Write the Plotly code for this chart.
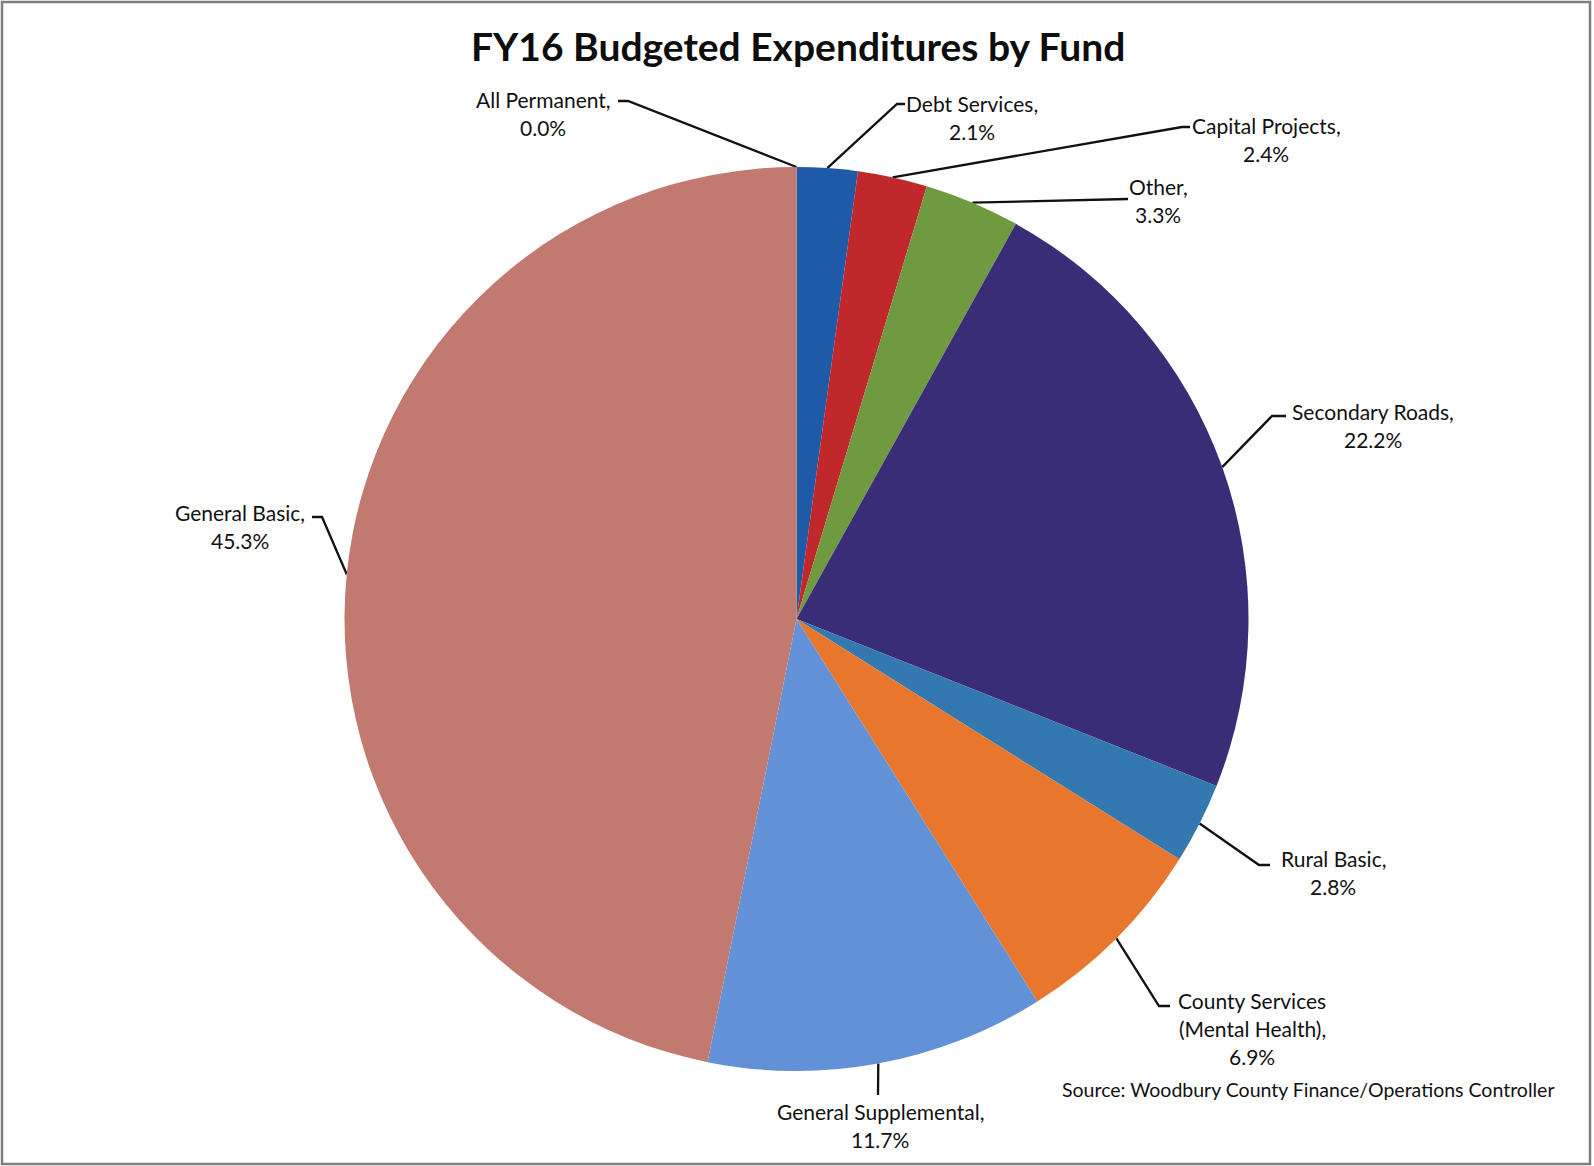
import numpy as np
import plotly.graph_objects as go

# FY16 budgeted expenditures, share of total by fund (%)
funds = [
    "All Permanent",
    "Debt Services",
    "Capital Projects",
    "Other",
    "Secondary Roads",
    "Rural Basic",
    "County Services\n(Mental Health)",
    "General Supplemental",
    "General Basic",
]
shares = [0.0, 2.1, 2.4, 3.3, 22.2, 2.8, 6.9, 11.7, 45.3]
fund_colors = [
    "#2c8f9c",
    "#1e5aa8",
    "#c0282b",
    "#6f9a3f",
    "#382d76",
    "#3478b1",
    "#e8762c",
    "#6291d8",
    "#c27a70",
]

title_text = "FY16 Budgeted Expenditures by Fund"
source_text = "Source: Woodbury County Finance/Operations Controller"

# page geometry (pixels)
W, H = 1594, 1166
CX, CY, R = 796.5, 619.0, 452.0

# label placement: text centre (x, y of first line), leader elbow, leader end
label_xy = [
    (543, 99), (972, 103), (1266, 125), (1158, 186), (1373, 411),
    (1333, 858), (1252, 1000), (880, 1111), (240, 512),
]
elbow_xy = [
    (628, 101), (897, 104), (1182, 127), (1118, 199), (1272, 416),
    (1259, 865), (1159, 1006), (878, 1095), (322, 517),
]
end_xy = [
    (618, 101), (905, 104), (1190, 127), (1128, 199), (1286, 416),
    (1270, 865), (1170, 1006), (878, 1095), (312, 517),
]
LINE_GAP = 28
FONT = "Lato, 'Open Sans', sans-serif"

fig = go.Figure()

fig.add_trace(go.Pie(
    labels=[f.replace("\n", " ") for f in funds],
    values=shares,
    marker=dict(colors=fund_colors, line=dict(width=0)),
    sort=False,
    direction="clockwise",
    rotation=0,
    textinfo="none",
    hoverinfo="label+value",
    showlegend=False,
    domain=dict(
        x=[(CX - R) / W, (CX + R) / W],
        y=[1 - (CY + R) / H, 1 - (CY - R) / H],
    ),
))

# leader lines: from each slice's mid-angle on the rim to its label
vals = np.array(shares, dtype=float)
mid = (np.cumsum(vals) - vals / 2) / vals.sum() * 2 * np.pi
rim_x = CX + R * np.sin(mid)
rim_y = CY - R * np.cos(mid)

for i in range(len(funds)):
    fig.add_trace(go.Scatter(
        x=[rim_x[i], elbow_xy[i][0], end_xy[i][0]],
        y=[rim_y[i], elbow_xy[i][1], end_xy[i][1]],
        mode="lines",
        line=dict(color="#111111", width=2.3),
        hoverinfo="skip",
        showlegend=False,
    ))

annotations = []
for i, name in enumerate(funds):
    lines = name.split("\n")
    lines[-1] = lines[-1] + ","
    lines.append(f"{shares[i]:.1f}%")
    lx, ly = label_xy[i]
    for k, txt in enumerate(lines):
        annotations.append(dict(
            x=lx, y=ly + k * LINE_GAP, xref="x", yref="y",
            text=txt, showarrow=False,
            xanchor="center", yanchor="middle",
            font=dict(family=FONT, size=21, color="#111111"),
        ))

annotations.append(dict(
    x=1308, y=1089, xref="x", yref="y",
    text=source_text, showarrow=False,
    xanchor="center", yanchor="middle",
    font=dict(family=FONT, size=19.5, color="#111111"),
))
annotations.append(dict(
    x=798, y=46, xref="x", yref="y",
    text=f"<b>{title_text}</b>", showarrow=False,
    xanchor="center", yanchor="middle",
    font=dict(family=FONT, size=39, color="#0d0d0d"),
))

fig.update_layout(
    width=W,
    height=H,
    margin=dict(l=0, r=0, t=0, b=0),
    paper_bgcolor="white",
    plot_bgcolor="white",
    xaxis=dict(range=[0, W], visible=False, fixedrange=True, domain=[0, 1]),
    yaxis=dict(range=[H, 0], visible=False, fixedrange=True, domain=[0, 1]),
    annotations=annotations,
    shapes=[dict(
        type="rect", xref="x", yref="y",
        x0=2, y0=2, x1=1590, y1=1164,
        line=dict(color="#7f7f7f", width=2.5),
        layer="above",
    )],
)

fig.write_html("out.html")
